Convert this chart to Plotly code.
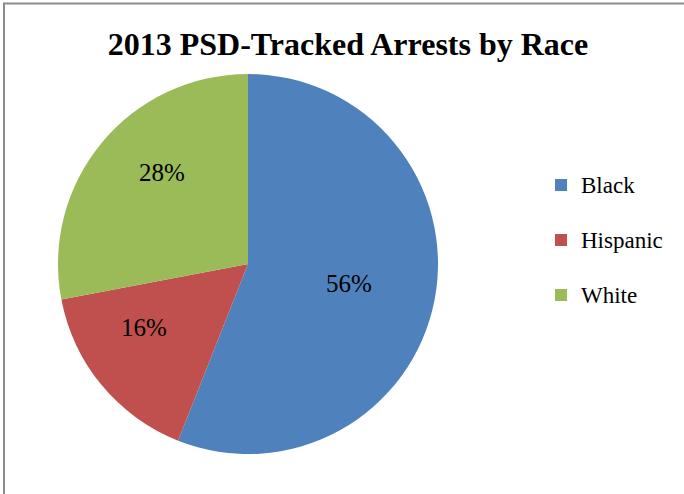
import math
import plotly.graph_objects as go

categories = ["Black", "Hispanic", "White"]
values = [56, 16, 28]
colors = ["#4F81BD", "#C0504D", "#9BBB59"]
title_text = "2013 PSD-Tracked Arrests by Race"

W, H = 684, 494
cx, cy, r = 248, 264, 190
label_radius = [0.54, 0.64, 0.66]
label_angle_shift = [0, 8, 7]

legend_labels = ["<span style='font-size:23px'>" + c + "</span><br>&nbsp;" for c in categories]

fig = go.Figure(go.Pie(
    labels=legend_labels,
    values=values,
    sort=False,
    direction="clockwise",
    rotation=0,
    marker=dict(colors=colors, line=dict(width=0)),
    textinfo="none",
    domain=dict(x=[(cx - r) / W, (cx + r) / W], y=[(H - cy - r) / H, (H - cy + r) / H]),
    hovertext=categories,
    hoverinfo="text+percent",
))

total = sum(values)
annotations = []
cum = 0
for i, v in enumerate(values):
    mid = (cum + v / 2) / total * 360 + label_angle_shift[i]
    cum += v
    th = math.radians(mid)
    d = label_radius[i] * r
    px = cx + d * math.sin(th)
    py = cy - d * math.cos(th)
    annotations.append(dict(
        x=px / W, y=1 - py / H, xref="paper", yref="paper",
        text=f"{round(v / total * 100)}%", showarrow=False,
        xanchor="center", yanchor="middle",
        font=dict(family="Liberation Serif", size=25, color="black"),
    ))

fig.update_layout(
    width=W, height=H,
    margin=dict(l=0, r=0, t=0, b=0),
    paper_bgcolor="white",
    plot_bgcolor="white",
    title=dict(text="<b>" + title_text + "</b>", x=348 / W, xanchor="center",
               y=1 - 43.5 / H, yanchor="middle", yref="container",
               font=dict(family="Liberation Serif", size=32, color="black")),
    legend=dict(x=541 / W, y=1 - 165.5 / H, xanchor="left", yanchor="top",
                font=dict(family="Liberation Serif", size=20, color="black"),
                valign="top", bgcolor="rgba(0,0,0,0)"),
    annotations=annotations,
    shapes=[dict(type="rect", xref="paper", yref="paper",
                 x0=4 / W, x1=1.2, y0=-0.2, y1=1 - 3.5 / H,
                 line=dict(color="#8C8C8C", width=2), fillcolor="rgba(0,0,0,0)",
                 layer="below")],
)

fig.write_html("out.html", config={"displayModeBar": False},
               post_script="document.body.style.margin='0';")
